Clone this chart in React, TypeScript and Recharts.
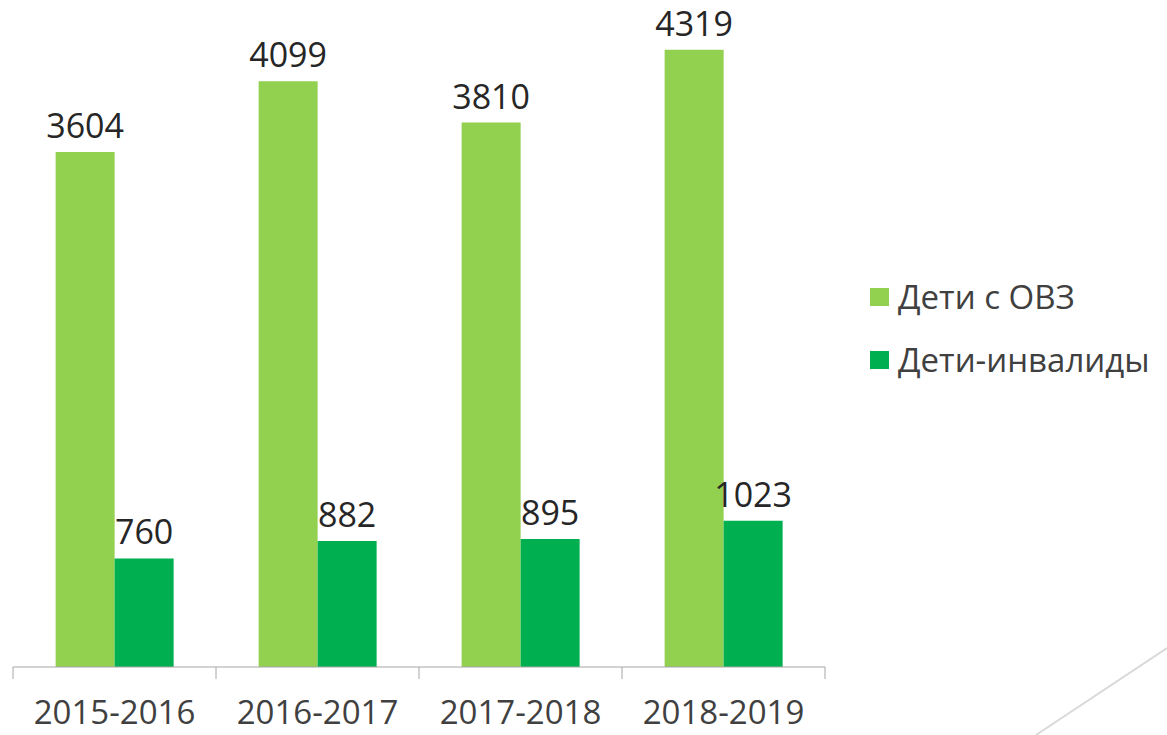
import { BarChart, Bar, XAxis, YAxis, LabelList } from 'recharts';

const years = ['2015-2016', '2016-2017', '2017-2018', '2018-2019'];
const ovz = [3604, 4099, 3810, 4319];
const invalids = [760, 882, 895, 1023];
const seriesNames = ['Дети с ОВЗ', 'Дети-инвалиды'];
const colors = ['#92d050', '#00b050'];

const data = years.map((year, i) => ({ year, ovz: ovz[i], inv: invalids[i] }));

const FONT = '"Open Sans", sans-serif';
const BAND = 203; // width of one category on the axis

// tick marks sit on the category borders, labels in the middle
const YearTick = ({ x, y, payload, index }: any) => (
	<g>
		<line x1={x - BAND / 2} y1={y} x2={x - BAND / 2} y2={y + 12} stroke="#a6a6a6" />
		{index === years.length - 1 && (
			<line x1={x + BAND / 2} y1={y} x2={x + BAND / 2} y2={y + 12} stroke="#a6a6a6" />
		)}
		<text
			x={x}
			y={y + 44}
			textAnchor="middle"
			dominantBaseline="central"
			fill="#404040"
			fontSize={33}
			fontFamily={FONT}
		>
			{payload.value}
		</text>
	</g>
);

const LegendBox = () => (
	<div
		style={{
			position: 'absolute',
			left: 870,
			top: 265,
			fontFamily: FONT,
			fontSize: 33,
			color: '#404040',
		}}
	>
		{seriesNames.map((name, i) => (
			<div key={name} style={{ display: 'flex', alignItems: 'center', height: 63 }}>
				<span
					style={{
						display: 'inline-block',
						width: 19,
						height: 18,
						background: colors[i],
						marginRight: 9,
					}}
				></span>
				<span>{name}</span>
			</div>
		))}
	</div>
);

export default function App() {
	return (
		<div style={{ position: 'absolute', left: 0, top: 0, width: 1167, height: 735, background: '#fff' }}>
			<BarChart
				width={1167}
				height={735}
				data={data}
				margin={{ top: 24, right: 342, bottom: 0, left: 13 }}
				barCategoryGap="21%"
				barGap={0}
			>
				<XAxis
					dataKey="year"
					height={68}
					stroke="#a6a6a6"
					tickLine={false}
					tickSize={0}
					tickMargin={0}
					interval={0}
					tick={<YearTick />}
				/>
				<YAxis hide domain={[0, 4500]} />
				<Bar dataKey="ovz" name={seriesNames[0]} fill={colors[0]} isAnimationActive={false}>
					<LabelList
						dataKey="ovz"
						position="top"
						offset={14}
						fill="#262626"
						style={{ fontSize: 34, fontFamily: FONT }}
					/>
				</Bar>
				<Bar dataKey="inv" name={seriesNames[1]} fill={colors[1]} isAnimationActive={false}>
					<LabelList
						dataKey="inv"
						position="top"
						offset={14}
						fill="#262626"
						style={{ fontSize: 34, fontFamily: FONT }}
					/>
				</Bar>
			</BarChart>
			<LegendBox />
			<svg
				width={1167}
				height={735}
				style={{ position: 'absolute', left: 0, top: 0, pointerEvents: 'none' }}
			>
				<line x1={1036} y1={735} x2={1167} y2={648} stroke="#d9d9d9" strokeWidth={2} />
			</svg>
		</div>
	);
}
